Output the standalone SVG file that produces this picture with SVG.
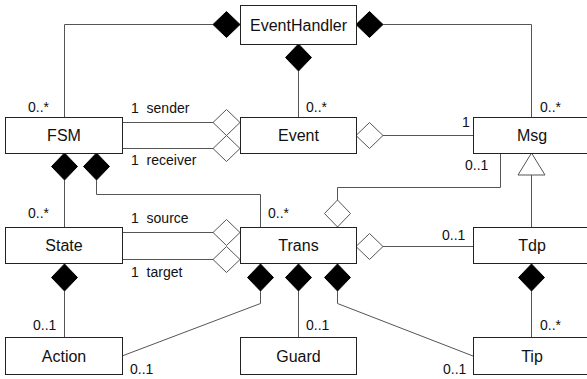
<svg xmlns="http://www.w3.org/2000/svg" width="587" height="379" viewBox="0 0 587 379">
  <style>
    .box { fill: #fff; stroke: #222; stroke-width: 1; }
    .name { font-family: "Liberation Sans", Arial, sans-serif; font-size: 16px; font-weight: normal; fill: #111; text-anchor: middle; }
    .lbl { font-family: "Liberation Sans", Arial, sans-serif; font-size: 14px; font-weight: normal; fill: #111; white-space: pre; }
    .line { fill: none; stroke: #555; stroke-width: 1; }
    .comp { fill: #000; stroke: #000; stroke-width: 1; }
    .agg { fill: #fff; stroke: #555; stroke-width: 1; }
  </style>
  <defs>
    <!-- horizontal diamond, centre at origin -->
    <polygon id="dh" points="-13.5,0 0,-13 13.5,0 0,13"/>
    <!-- vertical diamond, centre at origin -->
    <polygon id="dv" points="0,-13.5 13,0 0,13.5 -13,0"/>
  </defs>

  <g id="connectors">
    <!-- EventHandler compositions -->
    <polyline class="line" points="213,24.5 64.5,24.5 64.5,117"/>
    <use href="#dh" class="comp" x="226.5" y="24.5"/>
    <line class="line" x1="298.5" y1="71" x2="298.5" y2="117"/>
    <use href="#dv" class="comp" x="298.5" y="57.5"/>
    <polyline class="line" points="383,24.5 531.5,24.5 531.5,117"/>
    <use href="#dh" class="comp" x="369.5" y="24.5"/>

    <!-- FSM - Event -->
    <line class="line" x1="122" y1="122.5" x2="213" y2="122.5"/>
    <use href="#dh" class="agg" x="226.5" y="122.5"/>
    <line class="line" x1="122" y1="148.5" x2="213" y2="148.5"/>
    <use href="#dh" class="agg" x="226.5" y="148.5"/>

    <!-- Event - Msg -->
    <line class="line" x1="383" y1="135.5" x2="473" y2="135.5"/>
    <use href="#dh" class="agg" x="369.5" y="135.5"/>

    <!-- FSM compositions -->
    <line class="line" x1="64.5" y1="180" x2="64.5" y2="227"/>
    <use href="#dv" class="comp" x="64.5" y="166.5"/>
    <polyline class="line" points="96.5,180 96.5,194.5 260.5,194.5 260.5,227"/>
    <use href="#dv" class="comp" x="96.5" y="166.5"/>

    <!-- Msg - Trans -->
    <polyline class="line" points="500.5,153 500.5,187.5 337.5,187.5 337.5,200"/>
    <use href="#dv" class="agg" x="337.5" y="213.5"/>

    <!-- Tdp generalizes Msg -->
    <line class="line" x1="531.5" y1="175" x2="531.5" y2="227"/>
    <polygon class="agg" points="531.5,153 545,175 518,175"/>

    <!-- State - Trans -->
    <line class="line" x1="122" y1="232.5" x2="213" y2="232.5"/>
    <use href="#dh" class="agg" x="226.5" y="232.5"/>
    <line class="line" x1="122" y1="259.5" x2="213" y2="259.5"/>
    <use href="#dh" class="agg" x="226.5" y="259.5"/>

    <!-- Trans - Tdp -->
    <line class="line" x1="383" y1="246.5" x2="473" y2="246.5"/>
    <use href="#dh" class="agg" x="369.5" y="246.5"/>

    <!-- lower compositions -->
    <line class="line" x1="64.5" y1="291" x2="64.5" y2="337"/>
    <use href="#dv" class="comp" x="64.5" y="277.5"/>
    <polyline class="line" points="260.5,291 260.5,303.5 122,356"/>
    <use href="#dv" class="comp" x="260.5" y="277.5"/>
    <line class="line" x1="298.5" y1="291" x2="298.5" y2="337"/>
    <use href="#dv" class="comp" x="298.5" y="277.5"/>
    <polyline class="line" points="337.5,291 337.5,303.5 473,356"/>
    <use href="#dv" class="comp" x="337.5" y="277.5"/>
    <line class="line" x1="531.5" y1="291" x2="531.5" y2="337"/>
    <use href="#dv" class="comp" x="531.5" y="277.5"/>
  </g>

  <g id="labels">
    <text class="lbl" x="28" y="112">0..*</text>
    <text class="lbl" x="306" y="112">0..*</text>
    <text class="lbl" x="540" y="112">0..*</text>
    <text class="lbl" x="131" y="113">1  sender</text>
    <text class="lbl" x="131" y="165">1  receiver</text>
    <text class="lbl" x="462" y="127">1</text>
    <text class="lbl" x="465" y="170">0..1</text>
    <text class="lbl" x="28" y="218">0..*</text>
    <text class="lbl" x="268" y="218">0..*</text>
    <text class="lbl" x="131" y="223">1  source</text>
    <text class="lbl" x="131" y="277">1  target</text>
    <text class="lbl" x="442" y="240">0..1</text>
    <text class="lbl" x="33" y="330">0..1</text>
    <text class="lbl" x="306" y="330">0..1</text>
    <text class="lbl" x="540" y="330">0..*</text>
    <text class="lbl" x="130" y="374">0..1</text>
    <text class="lbl" x="443" y="374">0..1</text>
  </g>

  <g id="EventHandler"><rect class="box" x="240.5" y="5.5" width="116" height="39"/><text class="name" x="298.5" y="31">EventHandler</text></g>
  <g id="FSM"><rect class="box" x="5.5" y="117.5" width="117" height="36"/><text class="name" x="64" y="141">FSM</text></g>
  <g id="Event"><rect class="box" x="240.5" y="117.5" width="116" height="36"/><text class="name" x="298.5" y="141">Event</text></g>
  <g id="Msg"><rect class="box" x="473.5" y="117.5" width="117" height="36"/><text class="name" x="532" y="141">Msg</text></g>
  <g id="State"><rect class="box" x="5.5" y="227.5" width="117" height="36"/><text class="name" x="64" y="251">State</text></g>
  <g id="Trans"><rect class="box" x="240.5" y="227.5" width="116" height="36"/><text class="name" x="298.5" y="251">Trans</text></g>
  <g id="Tdp"><rect class="box" x="473.5" y="227.5" width="117" height="36"/><text class="name" x="532" y="251">Tdp</text></g>
  <g id="Action"><rect class="box" x="5.5" y="337.5" width="117" height="37"/><text class="name" x="64" y="362">Action</text></g>
  <g id="Guard"><rect class="box" x="240.5" y="337.5" width="116" height="37"/><text class="name" x="298.5" y="362">Guard</text></g>
  <g id="Tip"><rect class="box" x="473.5" y="337.5" width="117" height="37"/><text class="name" x="532" y="362">Tip</text></g>
</svg>
